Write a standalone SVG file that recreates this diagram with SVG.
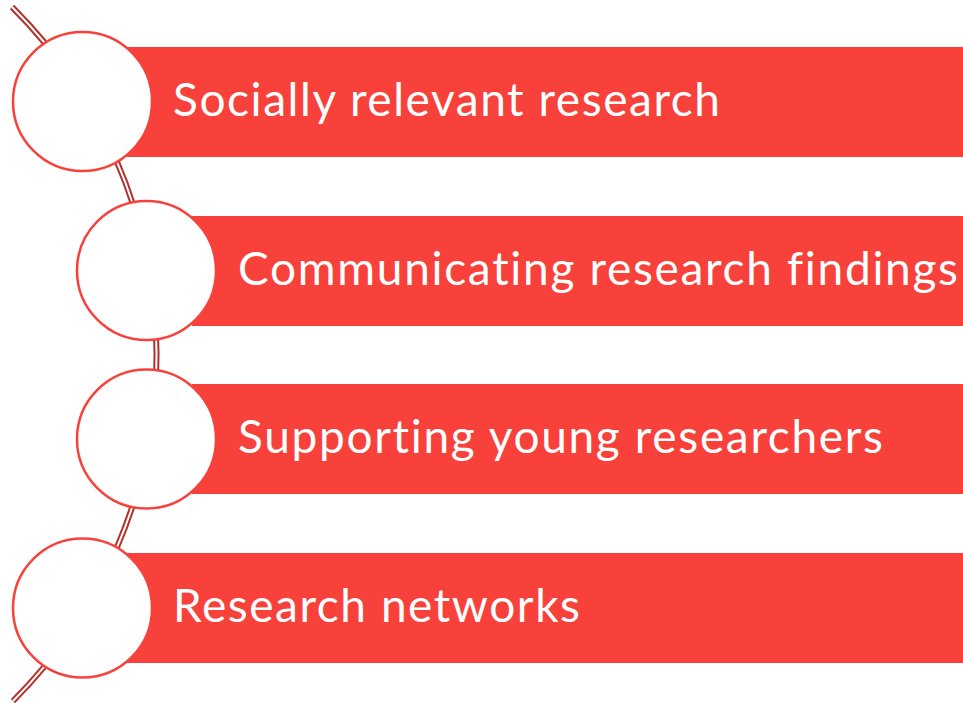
<svg xmlns="http://www.w3.org/2000/svg" width="963" height="703" viewBox="0 0 963 703">
<style>
.bar{fill:#f8413b}
.node circle{fill:#ffffff;stroke:#f8413b;stroke-width:2.5}
.lbl{fill:#ffffff;font-family:Lato,"Open Sans","Liberation Sans",sans-serif;font-size:46px;font-variant-ligatures:none;font-feature-settings:"liga" 0}
.arcO{fill:none;stroke:#b52f2b;stroke-width:6}
.arcI{fill:none;stroke:#ffffff;stroke-width:2}
</style>
<rect width="963" height="703" fill="#ffffff"/>
<g id="connectors">
<path class="arcO" d="M 12 7 A 490 490 0 0 1 13 701"/>
<path class="arcI" d="M 12 7 A 490 490 0 0 1 13 701"/>
</g>
<g id="node1" class="node">
<rect class="bar" x="127" y="47" width="836" height="110"/>
<circle cx="82.5" cy="101.5" r="69.5"/>
<text class="lbl" x="173" y="116" textLength="547">Socially relevant research</text>
</g>
<g id="node2" class="node">
<rect class="bar" x="192" y="216" width="771" height="110"/>
<circle cx="146.5" cy="270.5" r="69.5"/>
<text class="lbl" x="238" y="285" textLength="720">Communicating research findings</text>
</g>
<g id="node3" class="node">
<rect class="bar" x="192" y="384" width="771" height="110"/>
<circle cx="146.5" cy="439" r="69.5"/>
<text class="lbl" x="238" y="453" textLength="645">Supporting young researchers</text>
</g>
<g id="node4" class="node">
<rect class="bar" x="127" y="553" width="836" height="110"/>
<circle cx="82.5" cy="608" r="69.5"/>
<text class="lbl" x="173" y="622" textLength="407">Research networks</text>
</g>
</svg>
